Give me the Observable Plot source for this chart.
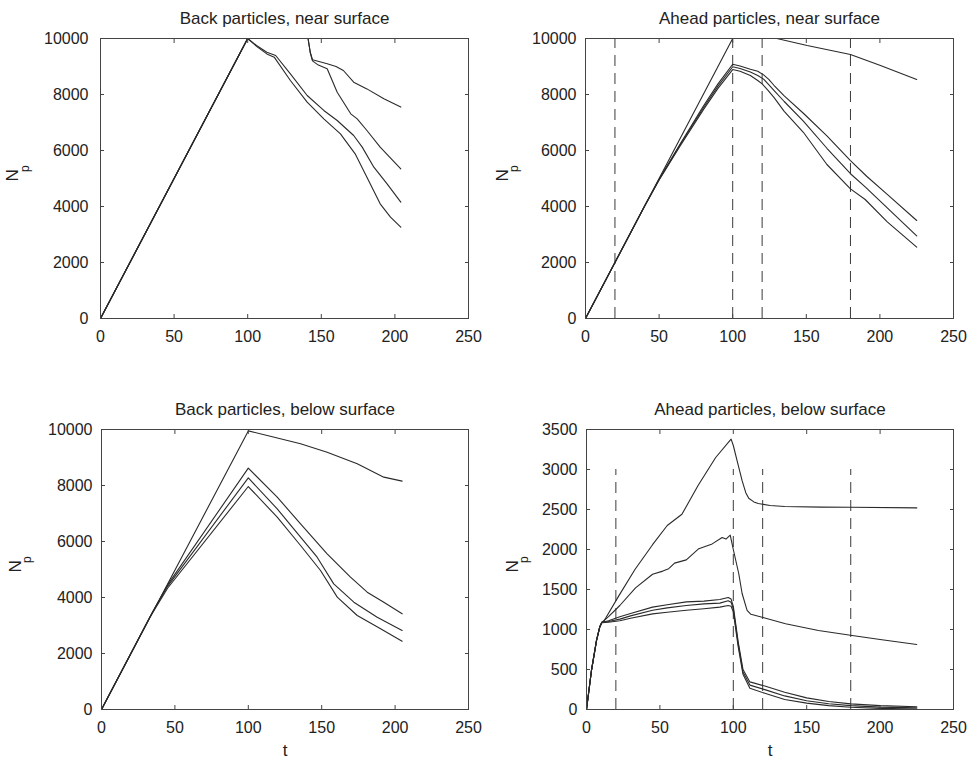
<!DOCTYPE html>
<html>
<head>
<meta charset="utf-8">
<script src="https://cdn.jsdelivr.net/npm/d3@7"></script>
<script src="https://cdn.jsdelivr.net/npm/@observablehq/plot@0.6"></script>
<style>
  body { margin: 0; background: #fff; }
  #wrap { position: relative; width: 977px; height: 759px; background: #fff; overflow: hidden; }
  .panel { position: absolute; }
  g[aria-label="title"] text { letter-spacing: 0.75px; }
</style>
</head>
<body>
<div id="wrap"></div>
<script>
// ---------- shared tick values ----------
const tTicks = [0, 50, 100, 150, 200, 250];
const nTicksBig = [0, 2000, 4000, 6000, 8000, 10000];
const nTicksSmall = [0, 500, 1000, 1500, 2000, 2500, 3000, 3500];
const dashTimes = [20, 100, 120, 180];

const titles = [
  "Back particles, near surface",
  "Ahead particles, near surface",
  "Back particles, below surface",
  "Ahead particles, below surface"
];

// ---------- Panel 1: Back particles, near surface  [t, Np] ----------
const backNearA = [[0,0],[100,10000],[141,10000],[142.5,9500],[144,9240],[154,9095],[160,9000],[165,8857],[172,8440],[181,8200],[192.5,7845],[204,7550]];
const backNearB = [[0,0],[100,10000],[141,10000],[142.5,9500],[144,9200],[148,9050],[154,8917],[160.8,8083],[170,7310],[174.4,7130],[181,6714],[190,6120],[204,5345]];
const backNearC = [[0,0],[100,10000],[106,9750],[113,9512],[119,9393],[129,8738],[140.4,7964],[151.7,7430],[160.8,7071],[172,6536],[177.8,6120],[185.7,5404],[194.7,4810],[204,4155]];
const backNearD = [[0,0],[100,10000],[106,9720],[113,9450],[118,9333],[129,8500],[140.4,7726],[151.7,7131],[163,6595],[173,5880],[181,5047],[190,4095],[197,3620],[204,3262]];

// ---------- Panel 2: Ahead particles, near surface ----------
const aheadNear0 = [[0,0],[100,10000],[130,10000],[150.6,9750],[180,9430],[200.4,9036],[225,8536]];
const aheadNear1 = [[0,0],[20,2000],[40,4000],[50,4970],[64.5,6250],[80,7580],[90,8380],[100,9080],[105,9020],[112,8900],[117,8830],[121,8700],[124.5,8540],[128,8330],[135,7950],[148,7330],[164,6520],[180,5640],[191,5080],[205,4430],[225,3500]];
const aheadNear2 = [[0,0],[20,2000],[40,4000],[50,4960],[64.5,6220],[80,7520],[90,8300],[100,8990],[105,8930],[112,8800],[117,8680],[121,8550],[124,8380],[128,8150],[135,7750],[148,7050],[164,6080],[180,5170],[190,4700],[205,3950],[225,2950]];
const aheadNear3 = [[0,0],[20,2000],[40,4000],[50,4950],[64.5,6180],[80,7450],[90,8220],[100,8890],[105,8830],[112,8680],[117,8500],[120,8380],[124,8150],[128,7900],[135,7400],[148,6650],[164,5500],[180,4630],[190,4250],[205,3450],[225,2550]];

// ---------- Panel 3: Back particles, below surface ----------
const backBelow0 = [[0,0],[100,9950],[112.9,9786],[135.6,9488],[153.7,9190],[174.2,8774],[192.3,8298],[204.8,8155]];
const backBelow1 = [[0,0],[35,3500],[45,4450],[100,8620],[119.7,7583],[135.6,6631],[153.7,5560],[169.6,4725],[181,4190],[192.3,3832],[204.8,3417]];
const backBelow2 = [[0,0],[35,3500],[45,4400],[100,8274],[119.7,7167],[135.6,6155],[146.9,5440],[158.2,4488],[171.9,3832],[187.8,3297],[204.8,2821]];
const backBelow3 = [[0,0],[33,3300],[45,4330],[100,7964],[119.7,6869],[135.6,5857],[149.2,4964],[160.6,4012],[174.2,3357],[190.1,2882],[204.8,2440]];

// ---------- Panel 4: Ahead particles, below surface ----------
const aheadBelowT = [[0,0],[3.4,490],[6.8,860],[9,1030],[10.5,1090],[12,1110],[22,1420],[33,1750],[45,2060],[55,2300],[65,2440],[76,2800],[88,3150],[98.5,3380],[100,3300],[103,3080],[106,2860],[108.5,2710],[110.5,2640],[114,2595],[117,2575],[125,2550],[135,2537],[160,2530],[180,2528],[225,2520]];
const aheadBelowS = [[0,0],[3.4,490],[6.8,860],[9,1030],[10.5,1090],[15,1160],[22.7,1300],[33.4,1520],[45,1690],[52,1730],[56,1760],[60,1830],[68,1870],[76.5,2010],[85.6,2070],[92.4,2150],[95,2130],[97.9,2180],[100,2000],[103.7,1700],[106,1450],[109.4,1240],[112,1190],[119.6,1154],[135.6,1071],[158,987],[181,925],[200,875],[225,812]];
const aheadBelowB1 = [[0,0],[3.4,490],[6.8,860],[9,1030],[10.5,1090],[15,1110],[22.7,1160],[30,1200],[45,1280],[55,1310],[68,1345],[80,1355],[90.8,1375],[96.5,1400],[98.5,1380],[100,1290],[103.3,850],[106.6,500],[111.3,345],[122,290],[135,215],[150,145],[165,100],[180,70],[200,48],[225,35]];
const aheadBelowB2 = [[0,0],[3.4,490],[6.8,860],[9,1030],[10.5,1090],[15,1100],[22.7,1130],[30,1170],[45,1240],[55,1270],[68,1300],[80,1320],[90.8,1330],[96.5,1360],[98.5,1340],[100,1260],[103.3,820],[106.6,470],[111.3,305],[122,245],[135,170],[150,110],[165,72],[180,48],[200,30],[225,20]];
const aheadBelowB3 = [[0,0],[3.4,490],[6.8,860],[9,1030],[10.5,1085],[15,1090],[22.7,1110],[30,1140],[45,1195],[55,1215],[68,1240],[80,1260],[90.8,1280],[96.5,1300],[98.5,1290],[100,1220],[103.3,790],[106.6,440],[111.3,265],[122,200],[135,125],[150,80],[165,48],[180,28],[200,14],[225,6]];

// ---------- panel builder ----------
function panel(cfg) {
  const font = "'Liberation Sans', Arial, Helvetica, sans-serif";
  const lineStroke = "#2a2a2a";
  const fmt = d => String(d);
  const marks = [];
  if (cfg.dashTop) {
    marks.push(Plot.ruleX(dashTimes, {y1: 0, y2: cfg.dashTop, stroke: "#3a3a3a", strokeWidth: 1, strokeDasharray: "11,7"}));
  }
  for (const s of cfg.series) {
    marks.push(Plot.line(s, {x: d => d[0], y: d => d[1], stroke: lineStroke, strokeWidth: 1.1}));
  }
  marks.push(
    Plot.frame({stroke: "#444", strokeWidth: 1}),
    Plot.axisX({anchor: "bottom", ticks: tTicks, tickSize: -4, tickPadding: 16, tickFormat: fmt, label: null, fontSize: 16, stroke: "#444"}),
    Plot.axisX({anchor: "top", ticks: tTicks, tickSize: -4, tickFormat: () => "", label: null, stroke: "#444"}),
    Plot.axisY({anchor: "left", ticks: cfg.yTicks, tickSize: -4, tickPadding: cfg.yPad, tickFormat: fmt, label: null, fontSize: 16, stroke: "#444"}),
    Plot.axisY({anchor: "right", ticks: cfg.yTicks, tickSize: -4, tickFormat: () => "", label: null, stroke: "#444"}),
    Plot.text([cfg.title], {frameAnchor: "top", dy: -15, lineAnchor: "bottom", fontSize: 17, fill: "#222", ariaLabel: "title"}),
    Plot.text(["N"], {frameAnchor: "left", dx: cfg.ylabDx, dy: 3, rotate: -90, lineAnchor: "bottom", fontSize: 17, fill: "#222"}),
    Plot.text(["p"], {frameAnchor: "left", dx: cfg.ylabDx + 10.5, dy: -6.5, rotate: -90, lineAnchor: "bottom", fontSize: 12, fill: "#222"})
  );
  if (cfg.xLabel) {
    marks.push(Plot.text(["t"], {frameAnchor: "bottom", dy: 46, lineAnchor: "bottom", fontSize: 17, fill: "#222"}));
  }
  return Plot.plot({
    width: cfg.w, height: cfg.h,
    marginLeft: cfg.ml, marginRight: cfg.mr, marginTop: cfg.mt, marginBottom: cfg.mb,
    x: {domain: [0, 250]},
    y: {domain: cfg.yDomain},
    style: {fontFamily: font, fontSize: "16px", color: "#222", background: "#fff", overflow: "visible"},
    marks
  });
}

const configs = [
  {left: 0, top: 0, w: 488, h: 370, ml: 100, mr: 20, mt: 38, mb: 52, yDomain: [0, 10000], yTicks: nTicksBig, yPad: 16, ylabDx: -82.5,
   title: titles[0], series: [backNearA, backNearB, backNearC, backNearD]},
  {left: 488, top: 0, w: 489, h: 370, ml: 97, mr: 24, mt: 38, mb: 52, yDomain: [0, 10000], yTicks: nTicksBig, yPad: 13, ylabDx: -78,
   title: titles[1], series: [aheadNear0, aheadNear1, aheadNear2, aheadNear3], dashTop: 10000},
  {left: 0, top: 370, w: 488, h: 389, ml: 101, mr: 20, mt: 59, mb: 50, yDomain: [0, 10000], yTicks: nTicksBig, yPad: 13, ylabDx: -81,
   title: titles[2], series: [backBelow0, backBelow1, backBelow2, backBelow3], xLabel: true},
  {left: 488, top: 370, w: 489, h: 389, ml: 98, mr: 24, mt: 59, mb: 50, yDomain: [0, 3500], yTicks: nTicksSmall, yPad: 13, ylabDx: -69,
   title: titles[3], series: [aheadBelowT, aheadBelowS, aheadBelowB1, aheadBelowB2, aheadBelowB3], dashTop: 3000, xLabel: true}
];

const wrap = document.getElementById("wrap");
for (const c of configs) {
  const div = document.createElement("div");
  div.className = "panel";
  div.style.left = c.left + "px";
  div.style.top = c.top + "px";
  div.appendChild(panel(c));
  wrap.appendChild(div);
}
</script>
</body>
</html>
